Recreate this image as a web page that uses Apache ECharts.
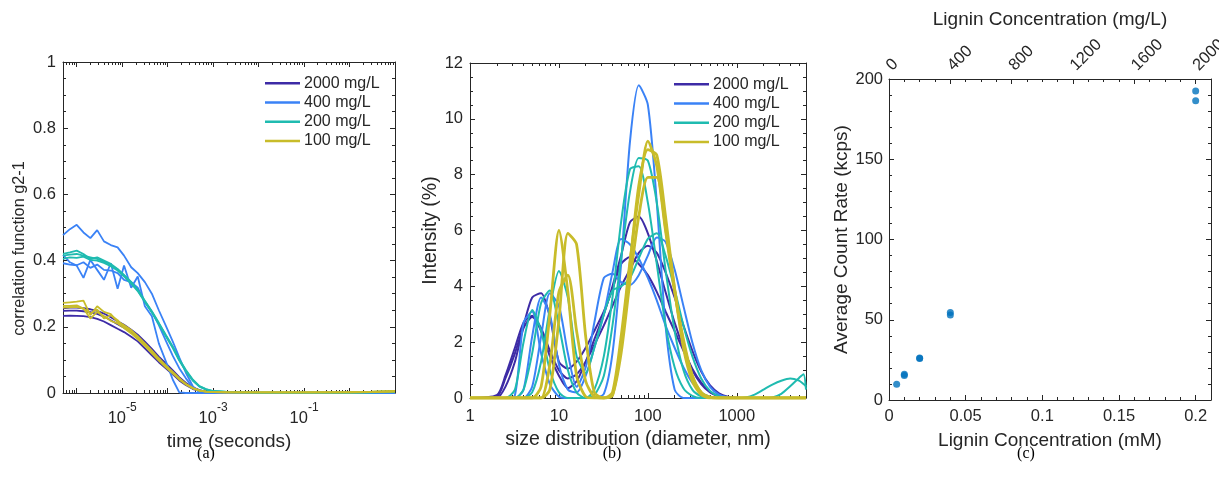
<!DOCTYPE html>
<html>
<head>
<meta charset="utf-8">
<script src="https://cdn.jsdelivr.net/npm/echarts@6/dist/echarts.min.js"></script>
<style>
    html, body { margin: 0; padding: 0; background: #fff; }
    #chart { width: 1219px; height: 492px; }
</style>
</head>
<body>
<div id="chart"></div>
<script>
/*==================== 数据 ====================*/
var groupNames = ['2000 mg/L', '400 mg/L', '200 mg/L', '100 mg/L'];
var groupColors = ['#3D2BA6', '#3A82F6', '#1FBBB0', '#C8BC2A'];

// (a) correlation function g2-1 vs time (s)
var tauA = [5e-7, 7.1e-7, 1e-6, 1.41e-6, 2e-6, 2.82e-6, 3.98e-6, 5.62e-6, 7.94e-6, 1.1e-5,
    1.58e-5, 2.2e-5, 3.16e-5, 4.5e-5, 6.4e-5, 9e-5, 1.3e-4, 1.8e-4, 2.5e-4, 3.6e-4,
    5e-4, 7e-4, 1e-3, 2e-3, 5e-3, 1e-2, 0.1, 1, 3, 10];
var g2_2000 = [
    [0.233, 0.234, 0.233, 0.232, 0.229, 0.224, 0.216, 0.205, 0.194, 0.184, 0.170, 0.156, 0.135, 0.114, 0.093, 0.075, 0.056, 0.038, 0.024, 0.012, 0.006, 0.003, 0.002, 0.001, 0, 0, 0, 0, 0, 0],
    [0.248, 0.249, 0.249, 0.247, 0.244, 0.239, 0.231, 0.220, 0.208, 0.197, 0.183, 0.168, 0.147, 0.125, 0.103, 0.084, 0.063, 0.044, 0.028, 0.015, 0.008, 0.004, 0.002, 0.001, 0, 0, 0, 0, 0, 0],
    [0.256, 0.258, 0.258, 0.256, 0.253, 0.248, 0.240, 0.229, 0.217, 0.206, 0.191, 0.176, 0.155, 0.133, 0.110, 0.090, 0.068, 0.048, 0.031, 0.017, 0.009, 0.004, 0.002, 0.001, 0, 0, 0, 0, 0, 0]
];
var g2_400 = [
    [0.477, 0.495, 0.508, 0.485, 0.468, 0.492, 0.458, 0.447, 0.440, 0.415, 0.380, 0.362, 0.335, 0.300, 0.250, 0.205, 0.155, 0.108, 0.062, 0.020, 0.003, 0.001, 0, 0, 0, 0, 0, 0, 0, 0],
    [0.417, 0.395, 0.385, 0.348, 0.402, 0.372, 0.342, 0.392, 0.315, 0.385, 0.318, 0.352, 0.262, 0.232, 0.150, 0.098, 0.040, 0.002, 0, 0, 0, 0, 0, 0, 0, 0, 0, 0, 0, 0],
    [0.392, 0.388, 0.386, 0.395, 0.378, 0.388, 0.372, 0.370, 0.362, 0.342, 0.335, 0.318, 0.275, 0.245, 0.205, 0.160, 0.112, 0.075, 0.045, 0.016, 0.004, 0.002, 0.001, 0, 0, 0, 0, 0, 0, 0]
];
var g2_200 = [
    [0.415, 0.418, 0.420, 0.415, 0.410, 0.405, 0.397, 0.387, 0.373, 0.355, 0.333, 0.310, 0.277, 0.245, 0.210, 0.175, 0.138, 0.100, 0.068, 0.038, 0.020, 0.011, 0.006, 0.003, 0.002, 0.001, 0.001, 0.001, 0.002, 0.004],
    [0.420, 0.425, 0.430, 0.420, 0.405, 0.410, 0.400, 0.390, 0.375, 0.357, 0.336, 0.312, 0.279, 0.247, 0.212, 0.177, 0.140, 0.102, 0.070, 0.040, 0.021, 0.012, 0.006, 0.003, 0.002, 0.001, 0.001, 0.002, 0.003, 0.006],
    [0.405, 0.410, 0.408, 0.412, 0.402, 0.400, 0.393, 0.383, 0.370, 0.352, 0.330, 0.308, 0.275, 0.243, 0.208, 0.173, 0.136, 0.098, 0.066, 0.037, 0.019, 0.010, 0.005, 0.003, 0.002, 0.001, 0.001, 0.001, 0.002, 0.003]
];
var g2_100 = [
    [0.272, 0.274, 0.276, 0.279, 0.235, 0.262, 0.245, 0.238, 0.215, 0.205, 0.190, 0.172, 0.150, 0.128, 0.105, 0.084, 0.064, 0.045, 0.028, 0.015, 0.008, 0.004, 0.003, 0.002, 0.002, 0.002, 0.002, 0.002, 0.003, 0.005],
    [0.263, 0.263, 0.265, 0.255, 0.240, 0.252, 0.225, 0.235, 0.220, 0.200, 0.186, 0.168, 0.147, 0.125, 0.102, 0.082, 0.062, 0.043, 0.027, 0.014, 0.007, 0.004, 0.003, 0.002, 0.002, 0.002, 0.002, 0.003, 0.004, 0.006],
    [0.258, 0.259, 0.260, 0.255, 0.225, 0.245, 0.232, 0.218, 0.210, 0.196, 0.180, 0.163, 0.142, 0.120, 0.098, 0.078, 0.059, 0.041, 0.026, 0.014, 0.007, 0.004, 0.003, 0.002, 0.002, 0.002, 0.002, 0.002, 0.003, 0.004]
];

// (b) intensity (%) vs diameter (nm)
var sizeB = [1, 2, 2.5, 3.2, 4, 5, 6.3, 7.9, 10, 12.6,
    15.8, 20, 25, 32, 40, 50, 63, 79, 100, 126,
    158, 200, 251, 316, 398, 501, 631, 794, 1000, 1259,
    1585, 1995, 2512, 3162, 3981, 5012, 5623, 6000];
var int_2000 = [
    [0, 0.05, 0.7, 1.6, 2.6, 3.6, 3.75, 2.9, 1.3, 1.05, 1.3, 1.8, 2.4, 3.1, 3.9, 4.8, 5.05, 4.8, 4.4, 3.8, 3.1, 2.4, 1.7, 1.05, 0.55, 0.22, 0.07, 0.02, 0, 0, 0, 0, 0, 0, 0, 0, 0, 0],
    [0, 0, 0.4, 1.3, 2.5, 2.9, 2.4, 1.5, 0.8, 0.35, 0.6, 1.3, 2.1, 3.0, 4.0, 5.1, 6.3, 6.5, 5.9, 4.9, 3.8, 2.7, 1.8, 1.0, 0.5, 0.2, 0.06, 0.01, 0, 0, 0, 0, 0, 0, 0, 0, 0, 0],
    [0, 0.1, 0.8, 1.8, 2.7, 2.95, 2.5, 1.7, 1.0, 0.7, 0.85, 1.3, 1.9, 2.6, 3.3, 4.0, 4.6, 5.2, 5.45, 5.2, 4.5, 3.6, 2.6, 1.7, 0.95, 0.45, 0.17, 0.05, 0.01, 0, 0, 0, 0, 0, 0, 0, 0, 0]
];
var int_400 = [
    [0, 0, 0, 0.1, 2.7, 3.1, 1.6, 0.5, 0.05, 0, 0, 0, 0, 0.15, 1.6, 4.8, 9.2, 11.2, 10.5, 7.0, 2.6, 0.3, 0, 0, 0, 0, 0, 0, 0, 0, 0, 0, 0, 0, 0, 0, 0, 0],
    [0, 0, 0, 0, 0.3, 2.2, 3.6, 3.0, 1.2, 0.3, 0.2, 0.8, 1.8, 3.0, 4.5, 5.7, 5.5, 5.0, 4.3, 3.5, 2.6, 1.8, 1.1, 0.55, 0.2, 0.05, 0, 0, 0, 0, 0, 0, 0, 0, 0, 0, 0, 0],
    [0, 0, 0, 0, 0, 0.4, 2.2, 3.75, 3.3, 1.6, 0.4, 1.1, 2.7, 4.3, 4.45, 4.15, 4.05, 4.4, 5.1, 5.75, 5.6, 4.6, 3.3, 2.0, 1.0, 0.4, 0.12, 0.03, 0, 0, 0, 0, 0, 0, 0, 0, 0, 0]
];
var int_200 = [
    [0, 0, 0, 0.3, 2.0, 3.15, 2.4, 1.0, 0.2, 0, 0, 0, 0.3, 1.5, 3.6, 6.3, 8.2, 8.3, 7.0, 4.8, 2.6, 1.1, 0.35, 0.08, 0, 0, 0, 0, 0, 0.02, 0.12, 0.3, 0.48, 0.62, 0.7, 0.62, 0.5, 0.42],
    [0, 0, 0, 0, 0.3, 1.6, 3.4, 3.85, 2.6, 1.0, 0.2, 0, 0.1, 0.8, 2.6, 5.0, 7.4, 8.6, 8.5, 7.0, 4.6, 2.4, 1.0, 0.3, 0.06, 0, 0, 0, 0, 0, 0, 0, 0, 0, 0, 0, 0, 0],
    [0, 0, 0, 0, 0, 0.2, 1.3, 3.2, 4.55, 3.6, 1.5, 0.9, 1.8, 3.0, 3.85, 4.0, 4.3, 5.0, 5.7, 5.9, 5.1, 3.9, 2.6, 1.5, 0.7, 0.25, 0.06, 0, 0, 0, 0, 0, 0.02, 0.15, 0.42, 0.72, 0.85, 0.3]
];
var int_100 = [
    [0, 0, 0, 0, 0, 0, 0.4, 3.0, 6.0, 3.8, 0.8, 0.05, 0, 0, 0.2, 2.2, 4.9, 7.3, 9.2, 8.3, 6.0, 3.8, 2.1, 0.8, 0.2, 0.02, 0, 0, 0, 0, 0, 0, 0, 0, 0, 0, 0, 0],
    [0, 0, 0, 0, 0, 0, 0, 0.3, 2.8, 5.9, 5.5, 2.2, 0.2, 0, 0.1, 1.6, 4.2, 6.5, 7.9, 7.9, 6.1, 3.9, 2.0, 0.8, 0.2, 0.03, 0, 0, 0, 0, 0, 0, 0, 0, 0, 0, 0, 0],
    [0, 0, 0, 0, 0, 0, 0, 1.2, 3.8, 4.4, 2.4, 0.6, 0.05, 0, 0.1, 1.9, 4.8, 7.6, 8.9, 8.7, 6.5, 3.9, 1.8, 0.6, 0.12, 0, 0, 0, 0, 0, 0, 0, 0, 0, 0, 0, 0, 0]
];

// (c) count rate vs concentration
var concMM = [0.005, 0.01, 0.01, 0.02, 0.02, 0.04, 0.04, 0.2, 0.2];
var countRate = [9.8, 15.2, 16.0, 25.8, 26.2, 53.0, 54.5, 186.5, 192.5];

var logTicksA = [-5, -3, -1];       // 显示的指数
var logTicksB = [1, 10, 100, 1000];

/*==================== 样式 ====================*/
var FONT = 'Liberation Sans';
var INK = '#262626';

function pair(xs, ys) {
    return xs.map(function (x, i) { return [x, ys[i]]; });
}

function boxAxis(opt) { // MATLAB 样式的坐标轴
    var base = {
        axisLine: { show: true, onZero: false, lineStyle: { color: INK, width: 1 } },
        axisTick: { show: true, inside: true, length: 5, lineStyle: { color: INK } },
        minorTick: { show: true, length: 3, lineStyle: { color: INK } },
        splitLine: { show: false },
        axisLabel: { color: INK, fontFamily: FONT, fontSize: 16.5 },
        nameTextStyle: { color: INK, fontFamily: FONT, fontSize: 19 },
        nameLocation: 'middle'
    };
    for (var k in opt) {
        if (typeof opt[k] === 'object' && base[k] && !Array.isArray(opt[k])) {
            base[k] = Object.assign({}, base[k], opt[k]);
        } else {
            base[k] = opt[k];
        }
    }
    return base;
}

function isDecade(v) {
    var e = Math.log10(v);
    return Math.abs(e - Math.round(e)) < 1e-6;
}

var myChart = echarts.init(document.getElementById('chart'), null, { renderer: 'canvas' });

var series = [];
var groupsA = [g2_2000, g2_400, g2_200, g2_100];
var groupsB = [int_2000, int_400, int_200, int_100];
groupsA.forEach(function (grp, gi) {
    grp.forEach(function (ys) {
        series.push({
            name: groupNames[gi], type: 'line', xAxisIndex: 0, yAxisIndex: 0,
            data: pair(tauA, ys), symbol: 'none', clip: true,
            lineStyle: { color: groupColors[gi], width: 1.8 },
            itemStyle: { color: groupColors[gi] }
        });
    });
});
groupsB.forEach(function (grp, gi) {
    grp.forEach(function (ys) {
        series.push({
            name: groupNames[gi], type: 'line', xAxisIndex: 2, yAxisIndex: 2,
            data: pair(sizeB, ys), symbol: 'none', clip: true, smooth: 0.25,
            lineStyle: { color: groupColors[gi], width: gi === 3 ? 2.8 : 2 },
            itemStyle: { color: groupColors[gi] }
        });
    });
});
series.push({
    type: 'scatter', xAxisIndex: 4, yAxisIndex: 4,
    data: pair(concMM, countRate), symbolSize: 7,
    itemStyle: { color: '#0072BD' }
});

var legendBase = {
    orient: 'vertical', data: groupNames, padding: 0,
    icon: 'rect', itemWidth: 35, itemHeight: 2.5, itemGap: 2,
    textStyle: { color: INK, fontFamily: FONT, fontSize: 16, lineHeight: 17.3, padding: [0, 0, 0, -1] }
};

var option = {
    animation: false,
    backgroundColor: '#fff',
    grid: [
        { left: 63, top: 62, width: 332, height: 331, outerBoundsMode: 'none' },
        { left: 470, top: 63, width: 336, height: 335, outerBoundsMode: 'none' },
        { left: 889, top: 79, width: 322, height: 321, outerBoundsMode: 'none' }
    ],
    legend: [
        Object.assign({ left: 265, top: 74.5 }, legendBase),
        Object.assign({ left: 674, top: 75.5 }, legendBase)
    ],
    xAxis: [
        boxAxis({
            gridIndex: 0, type: 'log', logBase: 10, min: 5e-7, max: 10, position: 'bottom',
            minorTick: { splitNumber: 9 },
            name: 'time (seconds)', nameGap: 37,
            axisLabel: {
                margin: 9,
                formatter: function (v) {
                    if (!isDecade(v)) return '';
                    var e = Math.round(Math.log10(v));
                    return logTicksA.indexOf(e) >= 0 ? '{b|10}{s|' + e + '}' : '';
                },
                rich: {
                    b: { fontSize: 16.5, fontFamily: FONT, color: INK, verticalAlign: 'bottom', lineHeight: 25 },
                    s: { fontSize: 12, fontFamily: FONT, color: INK, verticalAlign: 'top', lineHeight: 12 }
                }
            }
        }),
        boxAxis({
            gridIndex: 0, type: 'log', logBase: 10, min: 5e-7, max: 10, position: 'top',
            minorTick: { splitNumber: 9 }, axisLabel: { show: false }
        }),
        boxAxis({
            gridIndex: 1, type: 'log', logBase: 10, min: 1, max: 6000, position: 'bottom',
            minorTick: { splitNumber: 9 },
            name: 'size distribution (diameter, nm)', nameGap: 32,
            nameTextStyle: { fontSize: 19.5 },
            axisLabel: {
                margin: 10,
                formatter: function (v) {
                    if (!isDecade(v)) return '';
                    var r = Math.round(v);
                    return logTicksB.indexOf(r) >= 0 ? String(r) : '';
                }
            }
        }),
        boxAxis({
            gridIndex: 1, type: 'log', logBase: 10, min: 1, max: 6000, position: 'top',
            minorTick: { splitNumber: 9 }, axisLabel: { show: false }
        }),
        boxAxis({
            gridIndex: 2, type: 'value', min: 0, max: 0.21, interval: 0.05, position: 'bottom',
            minorTick: { splitNumber: 5 },
            name: 'Lignin Concentration (mM)', nameGap: 31,
            axisLabel: { margin: 8, showMaxLabel: false }
        }),
        boxAxis({
            gridIndex: 2, type: 'value', min: 0, max: 2100, interval: 400, position: 'top',
            minorTick: { splitNumber: 4 },
            name: 'Lignin Concentration (mg/L)', nameGap: 50,
            axisLabel: {
                rotate: -45, margin: 11, showMaxLabel: false,
                formatter: function (v) { return String(v); }
            }
        })
    ],
    yAxis: [
        boxAxis({
            gridIndex: 0, type: 'value', min: 0, max: 1, interval: 0.2, position: 'left',
            minorTick: { splitNumber: 4 },
            name: 'correlation function g2-1', nameGap: 35,
            nameTextStyle: { fontSize: 16.3, padding: [0, 42, 0, 0] },
            axisLabel: { margin: 7 }
        }),
        boxAxis({
            gridIndex: 0, type: 'value', min: 0, max: 1, interval: 0.2, position: 'right',
            minorTick: { splitNumber: 4 }, axisLabel: { show: false }
        }),
        boxAxis({
            gridIndex: 1, type: 'value', min: 0, max: 12, interval: 2, position: 'left',
            minorTick: { splitNumber: 4 },
            name: 'Intensity (%)', nameGap: 29,
            nameTextStyle: { fontSize: 19.5 },
            axisLabel: { margin: 7 }
        }),
        boxAxis({
            gridIndex: 1, type: 'value', min: 0, max: 12, interval: 2, position: 'right',
            minorTick: { splitNumber: 4 }, axisLabel: { show: false }
        }),
        boxAxis({
            gridIndex: 2, type: 'value', min: 0, max: 200, interval: 50, position: 'left',
            minorTick: { splitNumber: 5 },
            name: 'Average Count Rate (kcps)', nameGap: 37,
            axisLabel: { margin: 6 }
        }),
        boxAxis({
            gridIndex: 2, type: 'value', min: 0, max: 200, interval: 50, position: 'right',
            minorTick: { splitNumber: 5 }, axisLabel: { show: false }
        })
    ],
    graphic: [
        { type: 'text', x: 206, y: 454, style: { text: '(a)', fill: '#000', fontFamily: 'Liberation Serif', fontSize: 16, align: 'center', verticalAlign: 'middle' } },
        { type: 'text', x: 612, y: 454, style: { text: '(b)', fill: '#000', fontFamily: 'Liberation Serif', fontSize: 16, align: 'center', verticalAlign: 'middle' } },
        { type: 'text', x: 1026, y: 454, style: { text: '(c)', fill: '#000', fontFamily: 'Liberation Serif', fontSize: 16, align: 'center', verticalAlign: 'middle' } }
    ],
    series: series
};

myChart.setOption(option);
</script>
</body>
</html>
